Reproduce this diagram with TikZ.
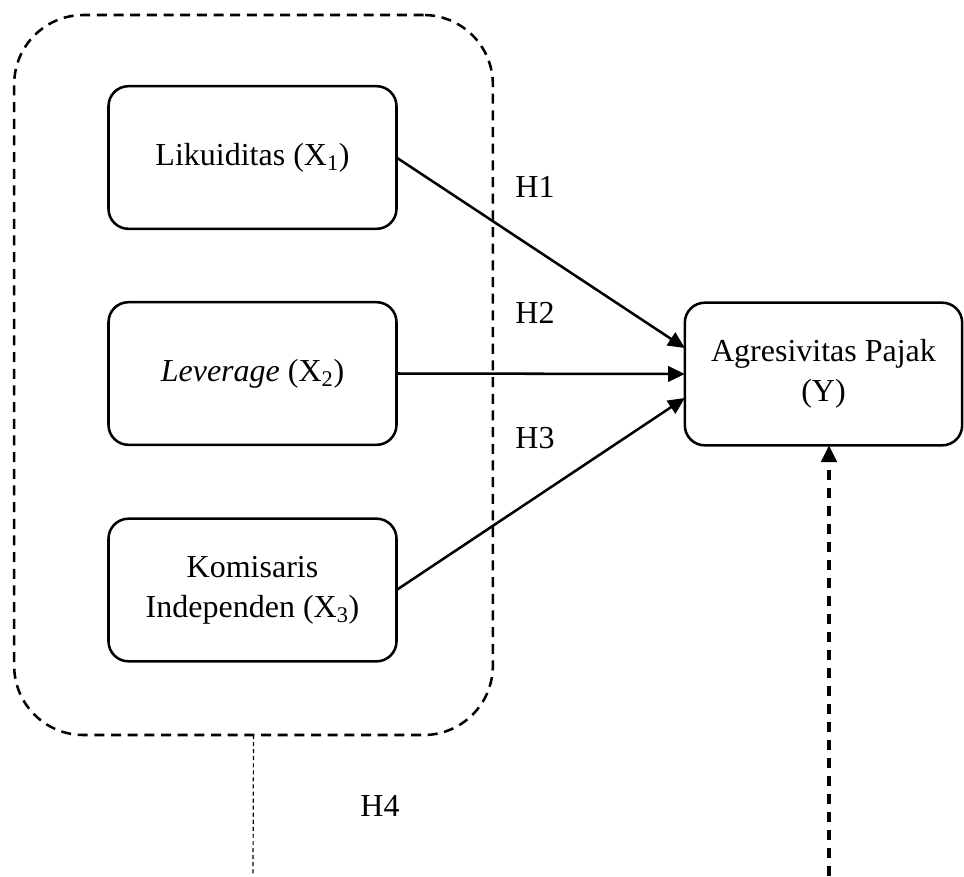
\documentclass[tikz,border=0pt]{standalone}
\usepackage{fontspec}
\setmainfont{Liberation Serif}
\usetikzlibrary{arrows.meta}
\begin{document}
\begin{tikzpicture}[x=0.75pt,y=-0.75pt,
  txt/.style={font=\fontsize{24}{30}\selectfont},
  box/.style={draw, line width=1.9pt, rounded corners=15pt, minimum width=216pt,
    minimum height=107pt, inner sep=0pt, outer sep=0pt, align=center, txt},
  grp/.style={draw, line width=1.9pt, dash pattern=on 7.5pt off 5pt, rounded corners=52pt,
    minimum width=359pt, minimum height=540pt, inner sep=0pt, outer sep=0pt},
  tip/.style={-{Triangle[length=12.5pt,width=11.5pt]}},
  arr/.style={line width=1.9pt, tip},
  thindash/.style={line width=0.9pt, dash pattern=on 3pt off 2.3pt},
  thickdash/.style={line width=2.4pt, dash pattern=on 7.5pt off 6pt, tip},
  hlabel/.style={txt, inner sep=0pt}]
\useasboundingbox (0,0) rectangle (964,876);

\node[grp] (g) at (253.5,375) {};

\node[box] (x1) at (252.5,157.5) {Likuiditas (X\textsubscript{1})};
\node[box] (x2) at (252.5,373.5) {\textit{Leverage} (X\textsubscript{2})};
\node[box] (x3) at (252.5,590) {Komisaris\\Independen (X\textsubscript{3})};
\node[box, minimum width=208pt] (y) at (823.5,374) {Agresivitas Pajak\\(Y)};

\draw[arr] (x1.east) -- ([yshift=19.5pt]y.west);
\draw[arr] (x2.east) -- (y.west);
\draw[arr] (x3.east) -- ([yshift=-18pt]y.west);

\node[hlabel] (h1) at (535,187) {H1};
\node[hlabel] (h2) at (535,313) {H2};
\node[hlabel] (h3) at (535,438) {H3};
\node[hlabel] (h4) at (380,806) {H4};

\coordinate (d1) at (253,876);
\draw[thindash] (g.south) -- (d1);
\coordinate (d2) at (829,876);
\draw[thickdash] (d2) -- (d2 |- y.south);
\end{tikzpicture}
\end{document}
